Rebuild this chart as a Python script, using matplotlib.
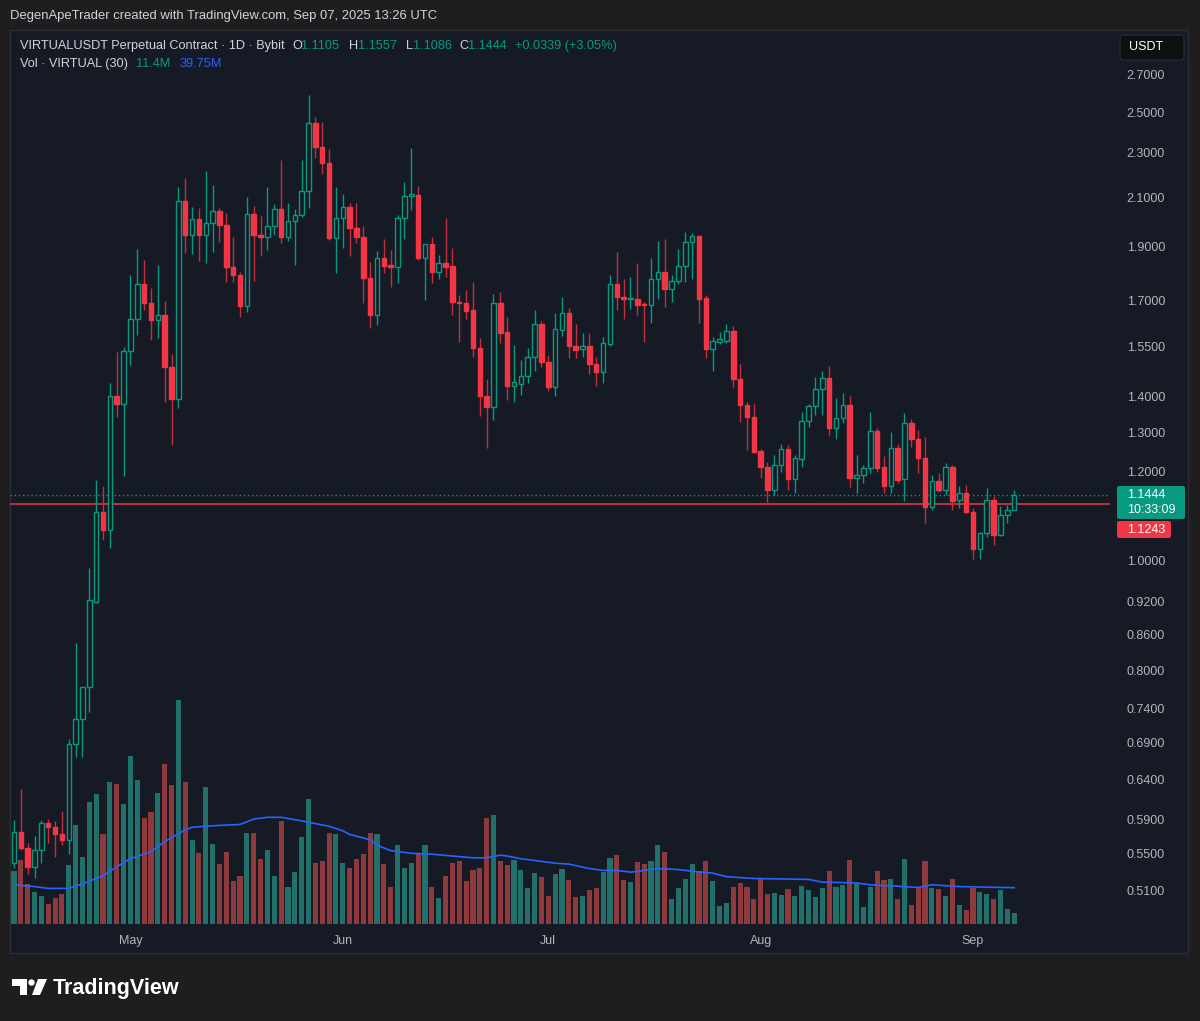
import numpy as np
import pandas as pd
import matplotlib
matplotlib.use("Agg")
import matplotlib.pyplot as plt
from matplotlib.patches import Rectangle, FancyBboxPatch, Polygon, Circle
from matplotlib.ticker import NullLocator

plt.rcParams["font.family"] = ["Liberation Sans", "DejaVu Sans"]

# ---- data (VIRTUALUSDT perp, 1D, Bybit) ----
dates = pd.date_range("2025-04-14", "2025-09-07", freq="D")

opens = [0.540, 0.575, 0.557, 0.536, 0.554, 0.586, 0.581, 0.573, 0.566, 0.688,
         0.724, 0.773, 0.920, 1.105, 1.065, 1.400, 1.378, 1.535, 1.639, 1.760,
         1.693, 1.635, 1.652, 1.486, 1.392, 2.085, 1.945, 2.010, 1.945, 1.994,
         2.043, 1.985, 1.822, 1.793, 1.683, 2.030, 1.945, 1.937, 1.981, 2.051,
         1.937, 2.002, 2.026, 2.128, 2.445, 2.328, 2.253, 1.933, 2.014, 2.059,
         1.973, 1.937, 1.782, 1.652, 1.856, 1.830, 1.822, 2.014, 2.106, 2.110,
         1.856, 1.910, 1.804, 1.837, 1.826, 1.697, 1.693, 1.669, 1.545, 1.400,
         1.369, 1.693, 1.595, 1.429, 1.435, 1.459, 1.516, 1.622, 1.501, 1.426,
         1.603, 1.659, 1.550, 1.541, 1.552, 1.495, 1.471, 1.557, 1.760, 1.714,
         1.707, 1.707, 1.689, 1.686, 1.778, 1.804, 1.742, 1.771, 1.826, 1.917,
         1.941, 1.711, 1.541, 1.563, 1.567, 1.599, 1.450, 1.375, 1.342, 1.252,
         1.211, 1.156, 1.216, 1.257, 1.182, 1.231, 1.331, 1.372, 1.421, 1.453,
         1.312, 1.339, 1.375, 1.185, 1.192, 1.209, 1.304, 1.211, 1.165, 1.259,
         1.182, 1.325, 1.283, 1.234, 1.117, 1.177, 1.156, 1.211, 1.133, 1.149,
         1.105, 1.025, 1.059, 1.133, 1.055, 1.098, 1.1105]
highs = [0.589, 0.628, 0.562, 0.571, 0.589, 0.591, 0.588, 0.600, 0.695, 0.846,
         0.773, 0.986, 1.180, 1.165, 1.438, 1.532, 1.548, 1.793, 1.890, 1.848,
         1.746, 1.830, 1.700, 1.526, 2.145, 2.185, 2.059, 2.055, 2.216, 2.154,
         2.055, 2.034, 1.937, 1.804, 2.102, 2.064, 2.022, 2.145, 2.072, 2.267,
         2.076, 2.051, 2.267, 2.588, 2.475, 2.450, 2.318, 2.145, 2.115, 2.076,
         2.076, 1.981, 1.841, 1.883, 1.929, 1.886, 2.026, 2.167, 2.323, 2.150,
         1.910, 1.937, 1.867, 2.014, 1.894, 1.721, 1.739, 1.767, 1.576, 1.450,
         1.724, 1.732, 1.645, 1.554, 1.507, 1.545, 1.669, 1.632, 1.523, 1.659,
         1.714, 1.676, 1.622, 1.593, 1.593, 1.516, 1.580, 1.793, 1.879, 1.778,
         1.785, 1.837, 1.697, 1.856, 1.921, 1.929, 1.793, 1.890, 1.957, 1.953,
         1.941, 1.721, 1.580, 1.596, 1.622, 1.615, 1.495, 1.383, 1.381, 1.257,
         1.224, 1.242, 1.270, 1.267, 1.242, 1.355, 1.378, 1.456, 1.474, 1.489,
         1.395, 1.409, 1.400, 1.242, 1.216, 1.355, 1.312, 1.239, 1.301, 1.270,
         1.353, 1.336, 1.307, 1.288, 1.192, 1.197, 1.221, 1.216, 1.165, 1.168,
         1.114, 1.061, 1.161, 1.142, 1.119, 1.121, 1.1557]
lows = [0.534, 0.554, 0.528, 0.524, 0.540, 0.562, 0.547, 0.560, 0.550, 0.670,
        0.670, 0.735, 0.918, 1.044, 1.027, 1.342, 1.190, 1.492, 1.586, 1.669,
        1.570, 1.576, 1.383, 1.267, 1.367, 1.875, 1.871, 1.845, 1.837, 1.879,
        1.917, 1.767, 1.767, 1.645, 1.662, 1.771, 1.863, 1.886, 1.945, 1.914,
        1.921, 1.830, 2.018, 2.055, 2.276, 2.203, 1.925, 1.800, 1.894, 1.863,
        1.914, 1.693, 1.609, 1.619, 1.800, 1.749, 1.764, 1.929, 2.047, 1.848,
        1.704, 1.764, 1.778, 1.785, 1.652, 1.564, 1.639, 1.516, 1.344, 1.259,
        1.334, 1.560, 1.389, 1.383, 1.403, 1.438, 1.474, 1.486, 1.415, 1.400,
        1.583, 1.513, 1.513, 1.516, 1.465, 1.429, 1.438, 1.552, 1.669, 1.639,
        1.673, 1.652, 1.564, 1.625, 1.707, 1.679, 1.697, 1.760, 1.767, 1.778,
        1.625, 1.513, 1.474, 1.557, 1.560, 1.424, 1.328, 1.254, 1.247, 1.185,
        1.128, 1.144, 1.199, 1.156, 1.149, 1.211, 1.315, 1.347, 1.347, 1.291,
        1.283, 1.325, 1.163, 1.149, 1.173, 1.197, 1.199, 1.149, 1.149, 1.173,
        1.130, 1.262, 1.197, 1.081, 1.110, 1.151, 1.144, 1.110, 1.114, 1.103,
        1.004, 1.004, 1.050, 1.033, 1.053, 1.081, 1.1086]
closes = [0.575, 0.557, 0.536, 0.554, 0.586, 0.581, 0.573, 0.566, 0.688, 0.724,
          0.773, 0.924, 1.105, 1.065, 1.400, 1.378, 1.535, 1.639, 1.760, 1.693,
          1.635, 1.652, 1.486, 1.392, 2.085, 1.945, 2.010, 1.945, 1.994, 2.043,
          1.985, 1.822, 1.793, 1.683, 2.030, 1.945, 1.937, 1.981, 2.051, 1.937,
          2.002, 2.026, 2.128, 2.445, 2.328, 2.253, 1.933, 2.014, 2.059, 1.973,
          1.937, 1.782, 1.652, 1.856, 1.826, 1.822, 2.014, 2.106, 2.115, 1.856,
          1.910, 1.804, 1.837, 1.822, 1.697, 1.693, 1.666, 1.545, 1.400, 1.369,
          1.693, 1.593, 1.429, 1.441, 1.459, 1.516, 1.622, 1.501, 1.426, 1.606,
          1.659, 1.550, 1.538, 1.552, 1.495, 1.471, 1.560, 1.760, 1.714, 1.707,
          1.711, 1.686, 1.686, 1.778, 1.804, 1.742, 1.771, 1.826, 1.917, 1.941,
          1.707, 1.541, 1.567, 1.573, 1.599, 1.450, 1.375, 1.342, 1.249, 1.211,
          1.156, 1.216, 1.257, 1.182, 1.234, 1.331, 1.372, 1.421, 1.453, 1.312,
          1.339, 1.375, 1.185, 1.192, 1.209, 1.304, 1.209, 1.165, 1.259, 1.180,
          1.325, 1.283, 1.234, 1.117, 1.177, 1.156, 1.211, 1.130, 1.149, 1.105,
          1.025, 1.059, 1.133, 1.055, 1.098, 1.1105, 1.1444]

# volume in millions
volume_m = [58, 71, 44, 35, 31, 22, 28, 33, 65, 110,
            74, 135, 144, 100, 157, 155, 133, 186, 160, 117,
            124, 145, 177, 154, 248, 157, 93, 78, 152, 88,
            66, 79, 47, 53, 101, 101, 72, 82, 53, 114,
            41, 57, 96, 138, 67, 69, 101, 99, 67, 62,
            72, 77, 101, 99, 66, 41, 87, 62, 67, 78,
            87, 41, 28, 53, 67, 69, 47, 60, 62, 117,
            121, 70, 65, 71, 59, 40, 56, 52, 31, 55,
            61, 48, 30, 31, 37, 39, 57, 73, 76, 48,
            46, 68, 66, 69, 87, 80, 27, 39, 49, 66,
            58, 69, 47, 20, 23, 41, 45, 41, 27, 50,
            33, 34, 32, 38, 31, 42, 37, 30, 40, 58,
            41, 43, 71, 44, 18, 41, 58, 48, 49, 27,
            72, 21, 39, 70, 40, 38, 31, 49, 21, 15,
            39, 35, 33, 27, 37, 16, 11.4]

# volume MA(30) read at sample candles
ma_idx = [0, 3, 5, 8, 10, 13, 15, 17, 20, 22, 25, 26, 30, 33, 35, 37, 39, 42, 46, 48,
          49, 52, 53, 55, 58, 61, 64, 67, 69, 71, 72, 74, 76, 79, 81, 84, 86, 88, 90, 92,
          94, 97, 99, 102, 104, 108, 116, 118, 123, 125, 130, 132, 134, 138, 146]
ma_vol = [43, 41, 39, 39, 44, 53, 63, 72, 80, 91, 104, 107, 109, 110, 116, 118, 118, 114, 108, 103,
          99, 93, 87, 81, 78, 77, 75, 73, 73, 76, 75, 72, 70, 67, 66, 61, 59, 59, 57, 59,
          61, 60, 58, 56, 52, 50, 49, 46, 45, 43, 41, 40, 43, 41, 39.75]

price_ticks = [2.7, 2.5, 2.3, 2.1, 1.9, 1.7, 1.55, 1.4, 1.3, 1.2, 1.0,
               0.92, 0.86, 0.8, 0.74, 0.69, 0.64, 0.59, 0.55, 0.51]
last_price = 1.1444
line_price = 1.1243

# ---- colours ----
PANE = "#161a25"
UP = "#089981"
DOWN = "#f23645"
DOWN_WICK = "#c22f3c"
VOL_UP = "#21706a"
VOL_DOWN = "#8e393c"
TXT = "#d1d4dc"
AXT = "#b2b5be"

W, H = 1200, 1021
fig = plt.figure(figsize=(W / 100, H / 100), dpi=100)
fig.patch.set_facecolor("#1e1e1e")

# pixel-space layer for background, header and labels
deco = fig.add_axes([0, 0, 1, 1], zorder=0)
deco.set_xlim(0, W)
deco.set_ylim(H, 0)
deco.axis("off")
deco.add_patch(Rectangle((10, 30), 1178, 923, facecolor=PANE, edgecolor="#2a2e39", lw=1))

rect = [10 / W, (H - 923.5) / H, 1100 / W, (923.5 - 30) / H]
axv = fig.add_axes(rect, zorder=1)
ax = fig.add_axes(rect, sharex=axv, zorder=2)
for a in (axv, ax):
    a.set_facecolor("none")
    for s in a.spines.values():
        s.set_visible(False)

x = np.arange(len(dates))
o, h, l, c = (np.array(v) for v in (opens, highs, lows, closes))
up = c >= o

# volume + MA
axv.bar(x, volume_m, width=0.75, color=np.where(up, VOL_UP, VOL_DOWN), linewidth=0)
axv.plot(ma_idx, ma_vol, color="#2962ff", lw=1.2)
axv.set_ylim(0, (923.5 - 30) / 0.9)
axv.tick_params(left=False, labelleft=False, bottom=False, labelbottom=False)

# candles (hollow up, filled down)
ax.set_yscale("log")
ax.vlines(x, l, h, colors=np.where(up, UP, DOWN_WICK), lw=1, zorder=2)
ax.bar(x, np.abs(c - o), bottom=np.minimum(o, c), width=0.66,
       color=np.where(up, PANE, DOWN), edgecolor=np.where(up, UP, DOWN),
       linewidth=1, zorder=3)
ax.axhline(last_price, color=UP, lw=1, ls=(0, (1, 2)), zorder=1)
ax.axhline(line_price, color=DOWN, lw=1.1, zorder=1)

ax.set_xlim(-0.58, 160)
ax.set_ylim(0.4772, 2.9555)
ax.yaxis.tick_right()
ax.yaxis.set_minor_locator(NullLocator())
ax.set_yticks(price_ticks)
ax.set_yticklabels([f"{v:.4f}" for v in price_ticks])
ax.tick_params(axis="y", length=0, pad=12, labelcolor=AXT, labelsize=9)

month_idx = [i for i, d in enumerate(dates) if d.day == 1]
ax.set_xticks(month_idx)
ax.set_xticklabels([dates[i].strftime("%b") for i in month_idx])
ax.tick_params(axis="x", length=0, pad=8, labelcolor=AXT, labelsize=9)

# header
deco.text(10, 16, "DegenApeTrader created with TradingView.com, Sep 07, 2025 13:26 UTC",
          color=TXT, fontsize=9.4, va="center")
deco.text(20, 46, "VIRTUALUSDT Perpetual Contract · 1D · Bybit", color=TXT, fontsize=9.2, va="center")
for lab, lx, val, vx in [("O", 292, "1.1105", 301), ("H", 349, "1.1557", 358),
                         ("L", 406, "1.1086", 413), ("C", 459, "1.1444", 468)]:
    deco.text(lx, 46, lab, color=TXT, fontsize=9.2, va="center")
    deco.text(vx, 46, val, color=UP, fontsize=9.2, va="center")
deco.text(515, 46, "+0.0339 (+3.05%)", color=UP, fontsize=9.2, va="center")
deco.text(20, 64, "Vol · VIRTUAL (30)", color=TXT, fontsize=9.2, va="center")
deco.text(136, 64, "11.4M", color=UP, fontsize=9.2, va="center")
deco.text(180, 64, "39.75M", color="#2962ff", fontsize=9.2, va="center")

# price scale badges
deco.add_patch(FancyBboxPatch((1120, 35), 64, 25, boxstyle="round,pad=0,rounding_size=4",
                              facecolor="#0e0f12", edgecolor="#2a2e39", lw=0.8))
deco.text(1146, 47.5, "USDT", color="white", fontsize=9, ha="center", va="center")
deco.add_patch(FancyBboxPatch((1117, 486), 68, 33, boxstyle="round,pad=0,rounding_size=2",
                              facecolor=UP, edgecolor="none"))
deco.text(1127, 495, "1.1444", color="white", fontsize=9, va="center")
deco.text(1127, 510, "10:33:09", color="white", fontsize=9, va="center")
deco.add_patch(FancyBboxPatch((1117, 521), 54, 17, boxstyle="round,pad=0,rounding_size=2",
                              facecolor=DOWN, edgecolor="none"))
deco.text(1127, 529.5, "1.1243", color="white", fontsize=9, va="center")

# TradingView logo
deco.add_patch(Polygon([(12, 979), (27, 979), (27, 995), (20, 995), (20, 986), (12, 986)],
                       facecolor="white", edgecolor="none"))
deco.add_patch(Circle((31.5, 982.5), 3.2, facecolor="white", edgecolor="none"))
deco.add_patch(Polygon([(38, 979), (47, 979), (40, 995), (32, 995)], facecolor="white", edgecolor="none"))
deco.text(53, 988, "TradingView", color="white", fontsize=15.5, fontweight="bold", va="center")

fig.savefig("out.png", dpi=100, facecolor=fig.get_facecolor())
